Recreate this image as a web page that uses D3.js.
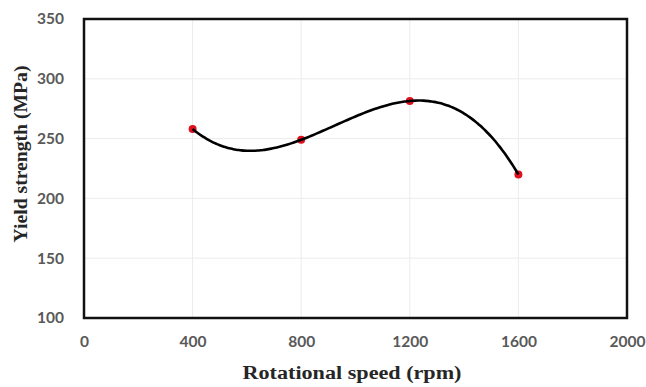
<!DOCTYPE html>
<html>
<head>
<meta charset="utf-8">
<script src="https://cdn.jsdelivr.net/npm/d3@7"></script>
<style>
  body { margin: 0; background: #fff; }
  .tick text { font-family: Lato, "Open Sans", sans-serif; font-weight: bold; font-size: 15.5px; fill: #595959; }
  .title { font-family: "Liberation Serif", "Times New Roman", serif; font-weight: bold; font-size: 18px; fill: #262626; }
</style>
</head>
<body>
<svg id="chart" width="646" height="387"></svg>
<script>
// data
const speeds = [400, 800, 1200, 1600];
const yieldStrength = [258, 249, 281.5, 220];
const xTicks = [0, 400, 800, 1200, 1600, 2000];
const yTicks = [100, 150, 200, 250, 300, 350];

const margin = { left: 84, right: 19, top: 19, bottom: 69 };
const width = 646 - margin.left - margin.right;
const height = 387 - margin.top - margin.bottom;

const svg = d3.select('#chart');
const g = svg.append('g').attr('transform', `translate(${margin.left}, ${margin.top})`);

const x = d3.scaleLinear().domain([0, 2000]).range([0, width]);
const y = d3.scaleLinear().domain([100, 350]).range([height, 0]);

// light gridlines
g.append('g').selectAll('line').data(xTicks.slice(1, -1)).join('line')
    .attr('x1', d => x(d)).attr('x2', d => x(d))
    .attr('y1', 0).attr('y2', height)
    .attr('stroke', '#ececec').attr('stroke-width', 1);
g.append('g').selectAll('line').data(yTicks.slice(1, -1)).join('line')
    .attr('x1', 0).attr('x2', width)
    .attr('y1', d => y(d)).attr('y2', d => y(d))
    .attr('stroke', '#ececec').attr('stroke-width', 1);

// axes (labels only, frame drawn separately)
const xAxis = g.append('g').attr('transform', `translate(0, ${height})`)
    .call(d3.axisBottom(x).tickValues(xTicks).tickFormat(d3.format('d')).tickSize(0).tickPadding(18));
const yAxis = g.append('g')
    .call(d3.axisLeft(y).tickValues(yTicks).tickSize(0).tickPadding(20));
xAxis.select('.domain').remove();
yAxis.select('.domain').remove();

// frame
g.append('rect')
    .attr('x', 0).attr('y', 0).attr('width', width).attr('height', height)
    .attr('fill', 'none').attr('stroke', '#111').attr('stroke-width', 2.5);

// third order trendline through the points (exact fit for 4 points)
const pts = speeds.map((s, i) => [s, yieldStrength[i]]);
function poly(v) {
    let sum = 0;
    pts.forEach((p, i) => {
        let term = p[1];
        pts.forEach((q, j) => { if (j !== i) term *= (v - q[0]) / (p[0] - q[0]); });
        sum += term;
    });
    return sum;
}
const curveX = d3.range(speeds[0], speeds[speeds.length - 1] + 1, 10);

// markers
g.append('g').selectAll('circle').data(pts).join('circle')
    .attr('cx', d => x(d[0])).attr('cy', d => y(d[1]))
    .attr('r', 4).attr('fill', '#e0101e');

g.append('path')
    .datum(curveX)
    .attr('fill', 'none').attr('stroke', '#000').attr('stroke-width', 2.6)
    .attr('d', d3.line().x(d => x(d)).y(d => y(poly(d))).curve(d3.curveMonotoneX));

// axis titles
svg.append('text').attr('class', 'title')
    .attr('x', 352).attr('y', 379)
    .attr('textLength', 219).attr('lengthAdjust', 'spacingAndGlyphs')
    .attr('text-anchor', 'middle').text('Rotational speed (rpm)');
svg.append('text').attr('class', 'title')
    .attr('transform', 'translate(27, 154) rotate(-90)')
    .attr('textLength', 177).attr('lengthAdjust', 'spacingAndGlyphs')
    .attr('text-anchor', 'middle').text('Yield strength (MPa)');
</script>
</body>
</html>
